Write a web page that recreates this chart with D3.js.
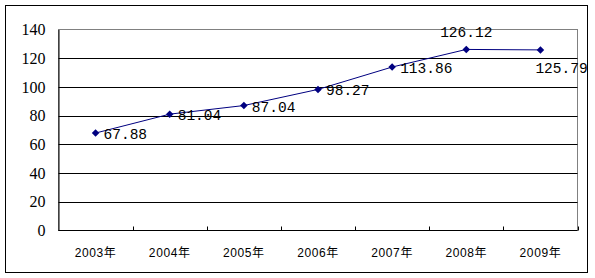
<!DOCTYPE html>
<html>
<head>
<meta charset="utf-8">
<script src="https://cdn.jsdelivr.net/npm/d3@7"></script>
<style>
body{margin:0;background:#fff;}
</style>
</head>
<body>
<script>
var w=595;
var h=278;

var years=["2003年","2004年","2005年","2006年","2007年","2008年","2009年"];
var values=[67.88,81.04,87.04,98.27,113.86,126.12,125.79];
var yTicks=[0,20,40,60,80,100,120,140];

var svg=d3.select("body").append("svg")
	.attr("width",w)
	.attr("height",h);

// outer frame
svg.append("rect")
	.attr("x",5.5).attr("y",5.5)
	.attr("width",582).attr("height",267)
	.attr("fill","#fff").attr("stroke","#000");

var pLeft=58.5, pRight=577.5, pTop=29.5, pBottom=230.5;

var x=d3.scaleBand().domain(years).range([pLeft,pRight]);
var y=d3.scaleLinear().domain([0,140]).range([pBottom,pTop]);

// plot border (gray)
svg.append("rect")
	.attr("x",pLeft).attr("y",pTop)
	.attr("width",pRight-pLeft).attr("height",pBottom-pTop)
	.attr("fill","none").attr("stroke","#808080");

// gridlines
svg.append("g").selectAll("line")
	.data(yTicks.filter(function(d){return d>0 && d<140;}))
	.enter().append("line")
	.attr("x1",pLeft).attr("x2",pRight)
	.attr("y1",function(d){return Math.round(y(d))+0.5;})
	.attr("y2",function(d){return Math.round(y(d))+0.5;})
	.attr("stroke","#000");

// y axis
var yAxis=svg.append("g")
	.attr("transform","translate("+pLeft+",0)")
	.call(d3.axisLeft(y).tickValues(yTicks).tickSize(0).tickPadding(13));
yAxis.select(".domain").attr("stroke","#000");
yAxis.selectAll("text")
	.attr("font-family","Liberation Serif")
	.attr("font-size","16px")
	.attr("fill","#000");

// x axis
var xAxis=svg.append("g")
	.attr("transform","translate(0,"+pBottom+")")
	.call(d3.axisBottom(x).tickSize(0).tickPadding(18));
xAxis.select(".domain").remove();
xAxis.selectAll("text")
	.attr("font-family","Liberation Sans, Noto Sans CJK SC")
	.attr("font-size","12px")
	.attr("letter-spacing","0.6px")
	.attr("fill","#000");
svg.append("line")
	.attr("x1",pLeft).attr("x2",pRight)
	.attr("y1",pBottom).attr("y2",pBottom)
	.attr("stroke","#000");
// category boundary ticks
svg.append("g").selectAll("line")
	.data(years)
	.enter().append("line")
	.attr("x1",function(d,i){return Math.round(pLeft+x.step()*(i+1))+0.5;})
	.attr("x2",function(d,i){return Math.round(pLeft+x.step()*(i+1))+0.5;})
	.attr("y1",pBottom-4).attr("y2",pBottom)
	.attr("stroke","#000");

var cx=function(d,i){return x(years[i])+x.bandwidth()/2;};

// line
var line=d3.line()
	.x(function(d,i){return cx(d,i);})
	.y(function(d){return y(d);});
svg.append("path")
	.datum(values)
	.attr("d",line)
	.attr("fill","none")
	.attr("stroke","#000080")
	.attr("stroke-width",1);

// diamond markers
svg.append("g").selectAll("path")
	.data(values)
	.enter().append("path")
	.attr("d",d3.symbol().type(d3.symbolDiamond2).size(36))
	.attr("transform",function(d,i){return "translate("+cx(d,i)+","+y(d)+")";})
	.attr("fill","#000080");

// data labels
svg.append("g").selectAll("text")
	.data(values)
	.enter().append("text")
	.attr("x",function(d,i){
		if(i==5) return cx(d,i);
		if(i==6) return cx(d,i)-5;
		return cx(d,i)+8;
	})
	.attr("y",function(d,i){
		if(i==5) return y(d)-12;
		if(i==6) return y(d)+23;
		return y(d)+6;
	})
	.attr("text-anchor",function(d,i){return i==5?"middle":"start";})
	.attr("font-family","Liberation Mono")
	.attr("font-size","14.5px")
	.attr("fill","#000")
	.text(function(d){return d.toFixed(2);});
</script>
</body>
</html>
